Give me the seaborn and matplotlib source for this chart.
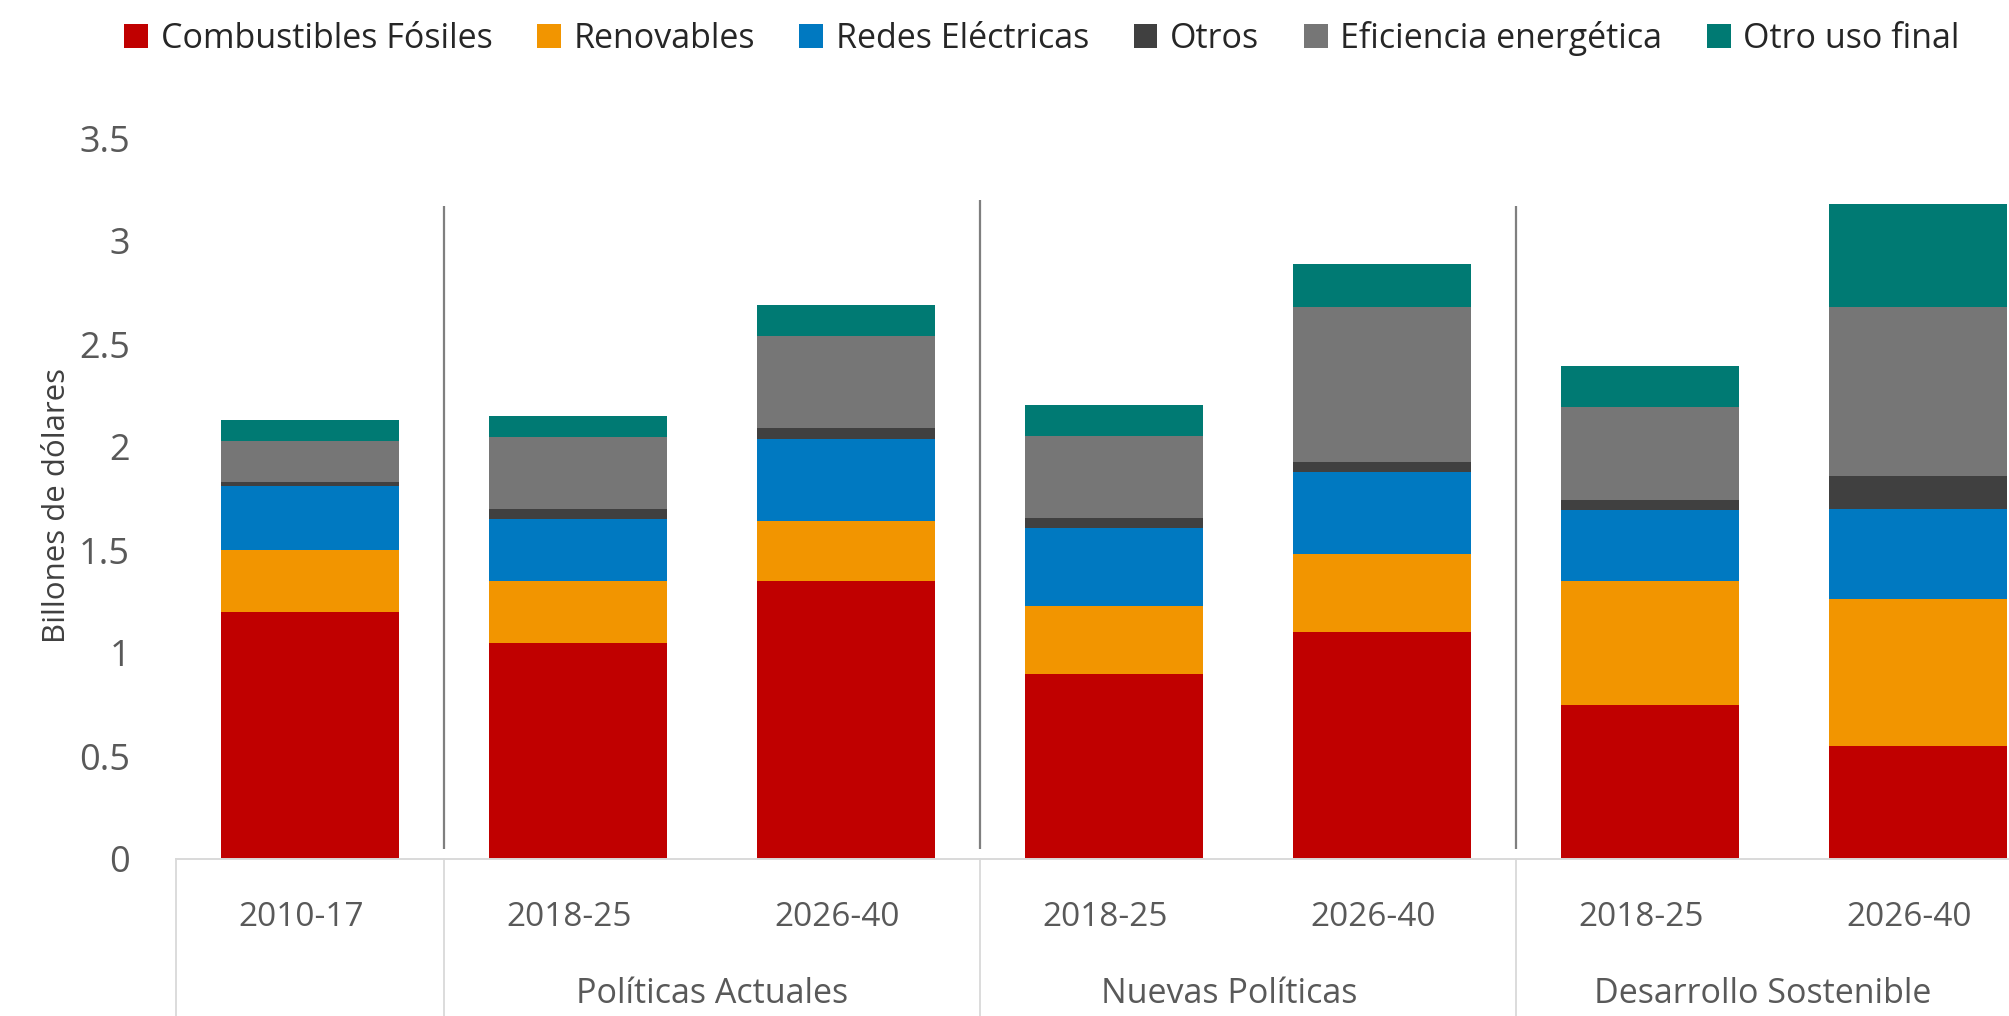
import matplotlib
matplotlib.use("Agg")
import matplotlib.pyplot as plt
import matplotlib.transforms as mtransforms
from matplotlib.patches import Patch
import numpy as np
import seaborn as sns

# ---------------- data ----------------
categories = ["2010-17", "PA 2018-25", "PA 2026-40", "NP 2018-25", "NP 2026-40", "DS 2018-25", "DS 2026-40"]
tick_labels = ["2010-17", "2018-25", "2026-40", "2018-25", "2026-40", "2018-25", "2026-40"]
group_labels = ["Políticas Actuales", "Nuevas Políticas", "Desarrollo Sostenible"]

series_names = ["Combustibles Fósiles", "Renovables", "Redes Eléctricas", "Otros",
                "Eficiencia energética", "Otro uso final"]
fossil = [1.20, 1.05, 1.35, 0.90, 1.10, 0.75, 0.55]
renewables = [0.30, 0.30, 0.29, 0.33, 0.38, 0.60, 0.71]
grids = [0.31, 0.30, 0.40, 0.375, 0.40, 0.345, 0.44]
others = [0.02, 0.05, 0.05, 0.05, 0.045, 0.05, 0.16]
efficiency = [0.20, 0.35, 0.45, 0.40, 0.755, 0.45, 0.82]
other_end_use = [0.10, 0.10, 0.15, 0.15, 0.21, 0.20, 0.50]

colors = ["#C00000", "#F29500", "#0079C1", "#404040", "#767676", "#007A73"]

y_ticks = [0, 0.5, 1, 1.5, 2, 2.5, 3, 3.5]
y_tick_labels = ["0", "0.5", "1", "1.5", "2", "2.5", "3", "3.5"]

# ---------------- figure ----------------
sns.set_theme(style="white")
plt.rcParams["font.family"] = ["Open Sans", "DejaVu Sans"]

W, H = 2009, 1016
fig = plt.figure(figsize=(W / 100, H / 100), dpi=100)
ax = fig.add_axes([176 / W, 157 / H, 1876 / W, 721 / H])

series = [fossil, renewables, grids, others, efficiency, other_end_use]
cum = np.cumsum(np.array(series), axis=0)

# draw cumulative bars from top to bottom so each lower segment overlays the previous
for i in range(len(series) - 1, -1, -1):
    sns.barplot(x=categories, y=cum[i], order=categories, color=colors[i],
                saturation=1, width=0.665, linewidth=0, errorbar=None, ax=ax)

ax.set_xlim(-0.5, 6.5)
ax.set_ylim(0, 3.5)

# spines
for s in ["top", "right", "left"]:
    ax.spines[s].set_visible(False)
ax.spines["bottom"].set_color("#D9D9D9")
ax.spines["bottom"].set_linewidth(1.4)

# ticks
ax.set_yticks(y_ticks)
ax.set_yticklabels(y_tick_labels)
ax.tick_params(axis="y", length=0, pad=33, labelsize=26, labelcolor="#595959")
ax.set_xticks(range(len(categories)))
ax.set_xticklabels(tick_labels)
ax.tick_params(axis="x", length=0, pad=30, labelsize=24, labelcolor="#595959")
offset = mtransforms.ScaledTranslation(-9 / 100, 0, fig.dpi_scale_trans)
for lab in ax.get_xticklabels():
    lab.set_transform(lab.get_transform() + offset)

ax.set_xlabel("")
ax.set_ylabel("Billones de dólares", fontsize=22.5, color="#404040")
ax.yaxis.set_label_coords(-0.0554, 0.49)

# scenario dividers inside plot
ax.vlines([0.5], 0.05, 3.17, color="#7F7F7F", lw=1.6)
ax.vlines([2.5], 0.05, 3.20, color="#7F7F7F", lw=1.6)
ax.vlines([4.5], 0.05, 3.17, color="#7F7F7F", lw=1.6)

# category box separators below axis
xt = ax.get_xaxis_transform()
for xv in [-0.5, 0.5, 2.5, 4.5]:
    ax.plot([xv, xv], [0, -0.23], transform=xt, color="#D9D9D9", lw=1.3,
            clip_on=False)

# group labels
for xg, lab in zip([1.5, 3.43, 5.42], group_labels):
    ax.text(xg, -0.187, lab, transform=xt, ha="center", va="center",
            fontsize=24.5, color="#595959")

# legend
handles = [Patch(facecolor=c, edgecolor="none", label=n) for c, n in zip(colors, series_names)]
fig.legend(handles=handles, loc="center", bbox_to_anchor=(1042 / W, 1 - 38 / H), ncol=6,
           frameon=False, fontsize=24.5, handlelength=0.7, handleheight=0.7,
           handletextpad=0.38, columnspacing=1.3, borderaxespad=0)

fig.savefig("out.png", dpi=100)
